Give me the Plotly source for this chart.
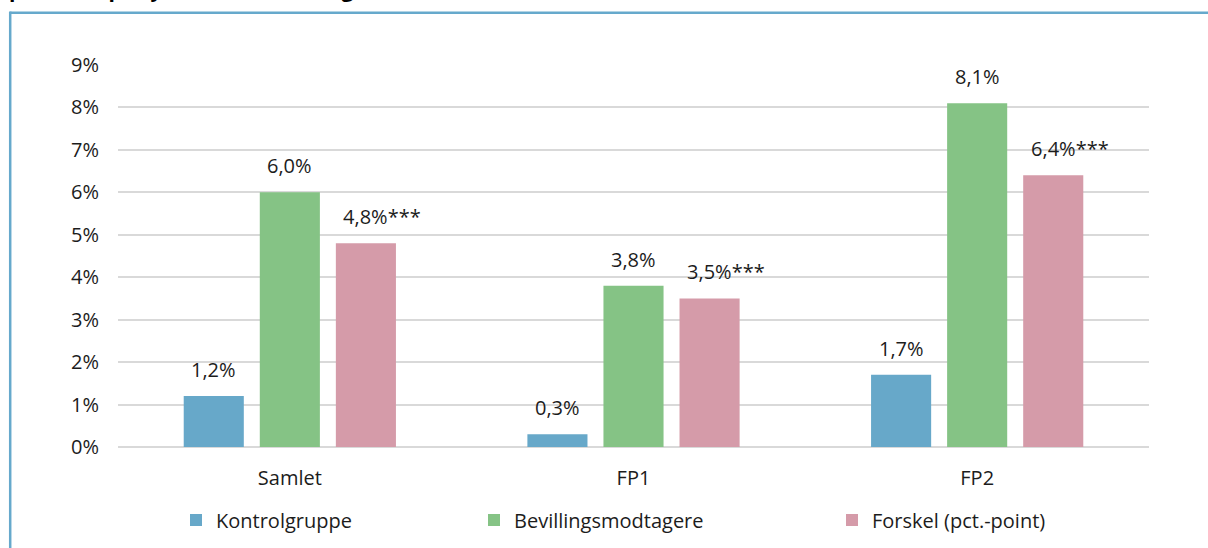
import plotly.graph_objects as go

# Andel med ... (i procent) fordelt på gruppe og fokusperiode
categories = ["Samlet", "FP1", "FP2"]
kontrol = [1.2, 0.3, 1.7]
bevilling = [6.0, 3.8, 8.1]
forskel = [4.8, 3.5, 6.4]
signif = ["***", "***", "***"]

series_names = ["Kontrolgruppe", "Bevillingsmodtagere", "Forskel (pct.-point)"]
colors = ["#67a8c9", "#85c385", "#d59ba9"]

title_text = "perioden på syv år efter bevilling"

W, H = 1208, 548
L, R, T, B = 118, 59, 65, 101
PW, PH = W - L - R, H - T - B

FONT = "Open Sans"
TXT = "#1c1c1c"


def xp(px):
    return (px - L) / PW


def yp(py):
    return (H - B - py) / PH


def fmt(v):
    return f"{v:.1f}".replace(".", ",") + "%"


fig = go.Figure()
legend_ids = ["legend", "legend2", "legend3"]
for name, vals, col, lg in zip(series_names, [kontrol, bevilling, forskel], colors, legend_ids):
    fig.add_trace(go.Bar(
        x=categories, y=vals, name=name, marker=dict(color=col, line=dict(width=0)),
        legend=lg, hoverinfo="skip",
    ))

# value labels above each bar
slot = PW / len(categories) * (1 - 0.336) / 3
for i, vals in enumerate([kontrol, bevilling, forskel]):
    for j, (cat, v) in enumerate(zip(categories, vals)):
        if i == 2:
            star = signif[j]
            text = f"<span style='color:rgba(0,0,0,0)'>{star}</span>{fmt(v)}{star}"
        else:
            text = fmt(v)
        fig.add_annotation(
            x=cat, y=v, xref="x", yref="y", text=text, showarrow=False,
            xanchor="center", yanchor="bottom", xshift=(i - 1) * slot, yshift=11,
            font=dict(family=FONT, size=20, color=TXT),
        )

# heading line above the chart frame
fig.add_annotation(
    x=xp(7), y=yp(5), xref="paper", yref="paper", text=f"<b>{title_text}</b>",
    showarrow=False, xanchor="left", yanchor="bottom",
    font=dict(family=FONT, size=21, color="#000000"),
)

# frame around the chart
frame = dict(color="#66a9cc", width=2.5)
fig.add_shape(type="line", xref="paper", yref="paper",
              x0=xp(10.2), x1=xp(1215), y0=yp(12.8), y1=yp(12.8), line=frame)
fig.add_shape(type="line", xref="paper", yref="paper",
              x0=xp(10.2), x1=xp(10.2), y0=yp(11.6), y1=yp(560), line=frame)

legend_common = dict(
    orientation="h", yanchor="middle", xanchor="left",
    font=dict(family=FONT, size=20, color=TXT), bgcolor="rgba(0,0,0,0)",
    itemclick=False, itemdoubleclick=False,
)
legend_x = [176, 474, 832]
layout_legends = {}
for lg, lx in zip(legend_ids, legend_x):
    layout_legends[lg] = dict(legend_common, x=xp(lx), y=yp(520))

fig.update_layout(
    width=W, height=H,
    margin=dict(l=L, r=R, t=T, b=B, pad=0, autoexpand=False),
    paper_bgcolor="white", plot_bgcolor="white",
    barmode="group", bargap=0.336, bargroupgap=0.21,
    showlegend=True,
    font=dict(family=FONT, size=20, color=TXT),
    xaxis=dict(
        showgrid=False, showline=False, zeroline=False,
        ticks="", ticklabelstandoff=17,
        tickfont=dict(family=FONT, size=20, color=TXT),
    ),
    yaxis=dict(
        range=[0, 9], dtick=1, ticksuffix="%",
        showgrid=True, gridcolor="#d9d9d9", gridwidth=2,
        zeroline=True, zerolinecolor="#d9d9d9", zerolinewidth=2,
        showline=False, ticks="", ticklabelstandoff=18,
        tickfont=dict(family=FONT, size=20, color=TXT),
    ),
    **layout_legends,
)

fig.write_html("out.html")
